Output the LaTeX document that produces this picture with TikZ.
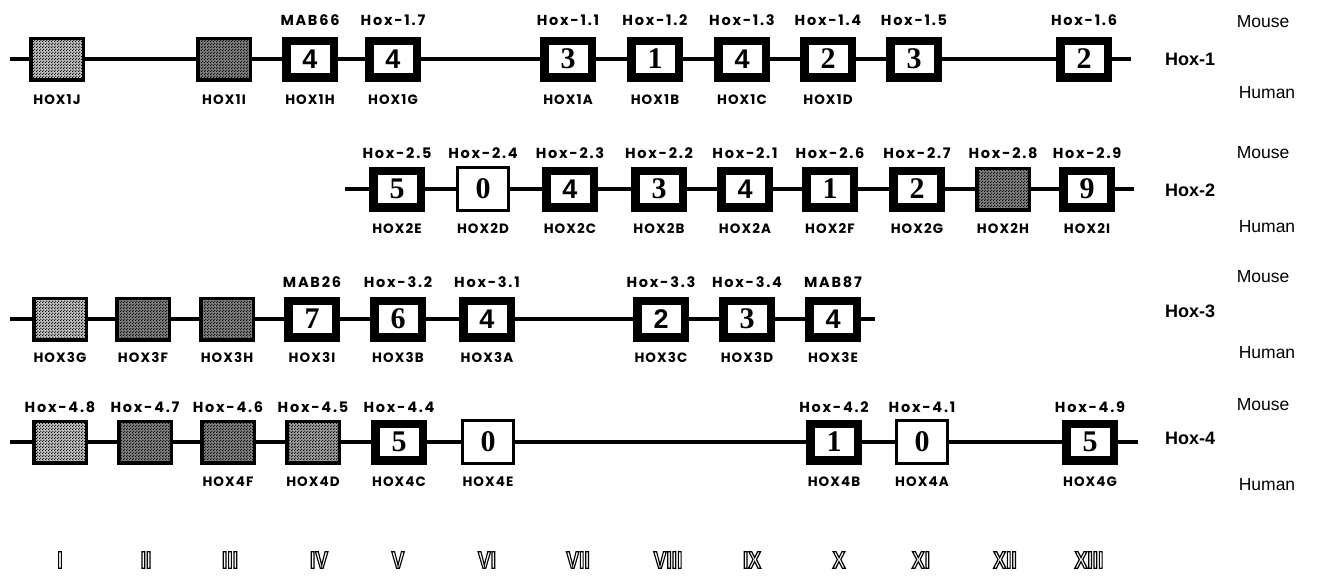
\documentclass[tikz,border=0pt]{standalone}
\usepackage{fontspec}
\setmainfont{Liberation Serif}
\newfontfamily\mlabfont{Poppins}[LetterSpace=12]
\newfontfamily\hlabfont{Poppins}[LetterSpace=8]
\newfontfamily\helv{Liberation Sans}
\newfontfamily\numserif{Liberation Serif}
\usetikzlibrary{patterns}

% halftone dot screen for the shaded (unassigned) genes
\pgfdeclarepatternformonly{halftone}{\pgfqpoint{0pt}{0pt}}{\pgfqpoint{3pt}{3pt}}{\pgfqpoint{3pt}{3pt}}%
  {\pgfpathcircle{\pgfqpoint{0.75pt}{0.75pt}}{0.85pt}%
   \pgfpathcircle{\pgfqpoint{2.25pt}{2.25pt}}{0.85pt}%
   \pgfusepath{fill}}

% outlined (stroked) glyphs for the paralog group numerals
\newcommand\hollow[1]{\special{pdf:literal direct 1 Tr 1.4 w}#1\special{pdf:literal direct 0 Tr}}

\tikzset{
  chr/.style={line width=3.2pt},
  genebox/.style={draw, line width=8.5pt, fill=white, minimum width=47.5pt,
    minimum height=36.5pt, inner sep=0pt,
    font=\numserif\bfseries\fontsize{30}{30}\selectfont},
  sansdigit/.style={font=\helv\bfseries\fontsize{27}{27}\selectfont},
  openbox/.style={draw, line width=2.6pt, fill=white, minimum width=51.5pt,
    minimum height=42.5pt, inner sep=0pt,
    font=\numserif\bfseries\fontsize{30}{30}\selectfont},
  lightbox/.style={draw, line width=3.5pt, minimum width=52.5pt,
    minimum height=41.5pt, inner sep=0pt, preaction={fill=black!25},
    pattern=halftone, pattern color=black},
  darkbox/.style={lightbox, preaction={fill=black!50}},
  midbox/.style={lightbox, preaction={fill=black!38}},
  mlab/.style={inner sep=0pt, font=\mlabfont\bfseries\fontsize{14.5}{14.5}\selectfont},
  hlab/.style={inner sep=0pt, font=\hlabfont\bfseries\fontsize{13.5}{13.5}\selectfont},
  species/.style={inner sep=0pt, font=\helv\fontsize{17.5}{17.5}\selectfont},
  cluster/.style={inner sep=0pt, font=\helv\bfseries\fontsize{18}{18}\selectfont},
  numeral/.style={inner sep=0pt, font=\helv\bfseries\fontsize{24}{24}\selectfont}
}

\begin{document}
\begin{tikzpicture}[x=1pt,y=-1pt]
\useasboundingbox (0,0) rectangle (1317,576);

% ---------------- Hox-1 ----------------
\node[lightbox] (h1j) at (57,59) {};
\node[darkbox]  (h1i) at (224,59) {};
\node[genebox,sansdigit] (h1h) at (310,59) {4};
\node[genebox,sansdigit] (h1g) at (393,59) {4};
\node[genebox] (h1a) at (568,59) {3};
\node[genebox] (h1b) at (655,59) {1};
\node[genebox,sansdigit] (h1c) at (742,59) {4};
\node[genebox] (h1d) at (828,59) {2};
\node[genebox] (h1e) at (914,59) {3};
\node[genebox] (h1f) at (1084,59) {2};
\coordinate (r1s) at (10,59);
\coordinate (r1e) at (1131,59);
\draw[chr] (r1s) -- (h1j) -- (h1i) -- (h1h) -- (h1g) -- (h1a) -- (h1b)
  -- (h1c) -- (h1d) -- (h1e) -- (h1f) -- (r1e);

\node[mlab] (m1h) at (310,20) {MAB66};
\node[mlab] (m1g) at (393,20) {Hox-1.7};
\node[mlab] (m1a) at (568,20) {Hox-1.1};
\node[mlab] (m1b) at (655,20) {Hox-1.2};
\node[mlab] (m1c) at (742,20) {Hox-1.3};
\node[mlab] (m1d) at (828,20) {Hox-1.4};
\node[mlab] (m1e) at (914,20) {Hox-1.5};
\node[mlab] (m1f) at (1084,20) {Hox-1.6};
\node[hlab] (u1j) at (57,100) {HOX1J};
\node[hlab] (u1i) at (224,100) {HOX1I};
\node[hlab] (u1h) at (310,100) {HOX1H};
\node[hlab] (u1g) at (393,100) {HOX1G};
\node[hlab] (u1a) at (568,100) {HOX1A};
\node[hlab] (u1b) at (655,100) {HOX1B};
\node[hlab] (u1c) at (742,100) {HOX1C};
\node[hlab] (u1d) at (828,100) {HOX1D};

% ---------------- Hox-2 ----------------
\node[genebox] (h2e) at (397,189) {5};
\node[openbox] (h2d) at (483,189) {0};
\node[genebox,sansdigit] (h2c) at (570,189) {4};
\node[genebox] (h2b) at (659,189) {3};
\node[genebox,sansdigit] (h2a) at (745,189) {4};
\node[genebox] (h2f) at (830,189) {1};
\node[genebox] (h2g) at (917,189) {2};
\node[darkbox] (h2h) at (1003,189) {};
\node[genebox] (h2i) at (1087,189) {9};
\coordinate (r2s) at (345,189);
\coordinate (r2e) at (1134,189);
\draw[chr] (r2s) -- (h2e) -- (h2d) -- (h2c) -- (h2b) -- (h2a) -- (h2f)
  -- (h2g) -- (h2h) -- (h2i) -- (r2e);

\node[mlab] (m2e) at (397,153) {Hox-2.5};
\node[mlab] (m2d) at (483,153) {Hox-2.4};
\node[mlab] (m2c) at (570,153) {Hox-2.3};
\node[mlab] (m2b) at (659,153) {Hox-2.2};
\node[mlab] (m2a) at (745,153) {Hox-2.1};
\node[mlab] (m2f) at (830,153) {Hox-2.6};
\node[mlab] (m2g) at (917,153) {Hox-2.7};
\node[mlab] (m2h) at (1003,153) {Hox-2.8};
\node[mlab] (m2i) at (1087,153) {Hox-2.9};
\node[hlab] (u2e) at (397,229) {HOX2E};
\node[hlab] (u2d) at (483,229) {HOX2D};
\node[hlab] (u2c) at (570,229) {HOX2C};
\node[hlab] (u2b) at (659,229) {HOX2B};
\node[hlab] (u2a) at (745,229) {HOX2A};
\node[hlab] (u2f) at (830,229) {HOX2F};
\node[hlab] (u2g) at (917,229) {HOX2G};
\node[hlab] (u2h) at (1003,229) {HOX2H};
\node[hlab] (u2i) at (1087,229) {HOX2I};

% ---------------- Hox-3 ----------------
\node[lightbox] (h3g) at (60,319) {};
\node[darkbox]  (h3f) at (143,319) {};
\node[darkbox]  (h3h) at (227,319) {};
\node[genebox] (h3i) at (312,319) {7};
\node[genebox] (h3b) at (398,319) {6};
\node[genebox,sansdigit] (h3a) at (487,319) {4};
\node[genebox,sansdigit] (h3c) at (661,319) {2};
\node[genebox] (h3d) at (747,319) {3};
\node[genebox,sansdigit] (h3e) at (833,319) {4};
\coordinate (r3s) at (10,319);
\coordinate (r3e) at (875,319);
\draw[chr] (r3s) -- (h3g) -- (h3f) -- (h3h) -- (h3i) -- (h3b) -- (h3a)
  -- (h3c) -- (h3d) -- (h3e) -- (r3e);

\node[mlab] (m3i) at (312,282) {MAB26};
\node[mlab] (m3b) at (398,282) {Hox-3.2};
\node[mlab] (m3a) at (487,282) {Hox-3.1};
\node[mlab] (m3c) at (661,282) {Hox-3.3};
\node[mlab] (m3d) at (747,282) {Hox-3.4};
\node[mlab] (m3e) at (833,282) {MAB87};
\node[hlab] (u3g) at (60,357) {HOX3G};
\node[hlab] (u3f) at (143,357) {HOX3F};
\node[hlab] (u3h) at (227,357) {HOX3H};
\node[hlab] (u3i) at (312,357) {HOX3I};
\node[hlab] (u3b) at (398,357) {HOX3B};
\node[hlab] (u3a) at (487,357) {HOX3A};
\node[hlab] (u3c) at (661,357) {HOX3C};
\node[hlab] (u3d) at (747,357) {HOX3D};
\node[hlab] (u3e) at (833,357) {HOX3E};

% ---------------- Hox-4 ----------------
\node[lightbox] (h48) at (60,442) {};
\node[darkbox]  (h47) at (145,442) {};
\node[darkbox]  (h4f) at (228,442) {};
\node[midbox]   (h4d) at (313,442) {};
\node[genebox] (h4c) at (399,442) {5};
\node[openbox] (h4e) at (488,442) {0};
\node[genebox] (h4b) at (834,442) {1};
\node[openbox] (h4a) at (922,442) {0};
\node[genebox] (h4g) at (1090,442) {5};
\coordinate (r4s) at (10,442);
\coordinate (r4e) at (1138,442);
\draw[chr] (r4s) -- (h48) -- (h47) -- (h4f) -- (h4d) -- (h4c) -- (h4e)
  -- (h4b) -- (h4a) -- (h4g) -- (r4e);

\node[mlab] (m48) at (60,407) {Hox-4.8};
\node[mlab] (m47) at (145,407) {Hox-4.7};
\node[mlab] (m4f) at (228,407) {Hox-4.6};
\node[mlab] (m4d) at (313,407) {Hox-4.5};
\node[mlab] (m4c) at (399,407) {Hox-4.4};
\node[mlab] (m4b) at (834,407) {Hox-4.2};
\node[mlab] (m4a) at (922,407) {Hox-4.1};
\node[mlab] (m4g) at (1090,407) {Hox-4.9};
\node[hlab] (u4f) at (228,482) {HOX4F};
\node[hlab] (u4d) at (313,482) {HOX4D};
\node[hlab] (u4c) at (399,482) {HOX4C};
\node[hlab] (u4e) at (488,482) {HOX4E};
\node[hlab] (u4b) at (834,482) {HOX4B};
\node[hlab] (u4a) at (922,482) {HOX4A};
\node[hlab] (u4g) at (1090,482) {HOX4G};

% ---------------- cluster and species labels ----------------
\node[cluster] (c1) at (1190,59) {Hox-1};
\node[cluster] (c2) at (1190,190) {Hox-2};
\node[cluster] (c3) at (1190,311) {Hox-3};
\node[cluster] (c4) at (1190,438) {Hox-4};
\node[species] (ms1) at (1263,22) {Mouse};
\node[species] (ms2) at (1263,153) {Mouse};
\node[species] (ms3) at (1263,277) {Mouse};
\node[species] (ms4) at (1263,405) {Mouse};
\node[species] (hs1) at (1267,93) {Human};
\node[species] (hs2) at (1267,227) {Human};
\node[species] (hs3) at (1267,353) {Human};
\node[species] (hs4) at (1267,485) {Human};

% ---------------- paralog groups ----------------
\foreach \nm/\xx/\lab in {g1/60/I, g2/146/II, g3/230/III, g4/319/IV, g5/398/V,
    g6/487/VI, g7/578/VII, g8/668/VIII, g9/752/IX, g10/839/X, g11/921/XI,
    g12/1005/XII, g13/1089/XIII}
  \node[numeral] (\nm) at (\xx,560) {\scalebox{0.8}[1]{\hollow{\lab}}};
\end{tikzpicture}
\end{document}
